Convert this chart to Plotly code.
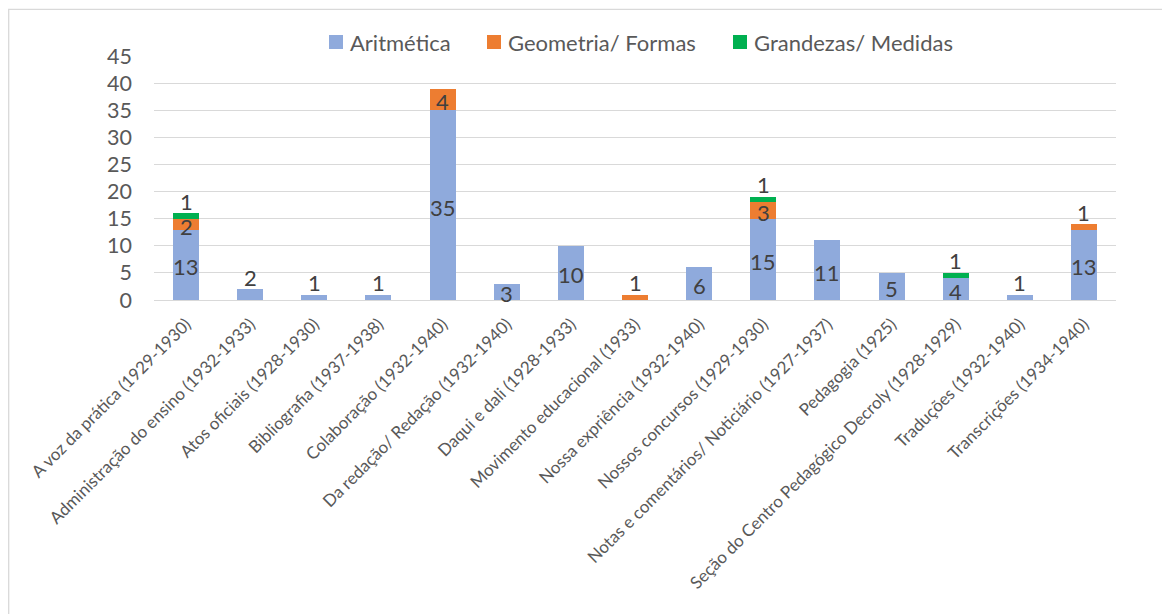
import plotly.graph_objects as go

# Seções da revista e número de ocorrências por conteúdo matemático
categories = [
    "A voz da prática (1929-1930)",
    "Administração do ensino (1932-1933)",
    "Atos oficiais (1928-1930)",
    "Bibliografia (1937-1938)",
    "Colaboração (1932-1940)",
    "Da redação/ Redação (1932-1940)",
    "Daqui e dali (1928-1933)",
    "Movimento educacional (1933)",
    "Nossa expriência (1932-1940)",
    "Nossos concursos (1929-1930)",
    "Notas e comentários/ Noticiário (1927-1937)",
    "Pedagogia (1925)",
    "Seção do Centro Pedagógico Decroly (1928-1929)",
    "Traduções (1932-1940)",
    "Transcrições (1934-1940)",
]
aritmetica = [13, 2, 1, 1, 35, 3, 10, 0, 6, 15, 11, 5, 4, 1, 13]
geometria = [2, 0, 0, 0, 4, 0, 0, 1, 0, 3, 0, 0, 0, 0, 1]
grandezas = [1, 0, 0, 0, 0, 0, 0, 0, 0, 1, 0, 0, 1, 0, 0]

series = [
    ("Aritmética", aritmetica, "#8FAADC"),
    ("Geometria/ Formas", geometria, "#ED7D31"),
    ("Grandezas/ Medidas", grandezas, "#00B050"),
]

y_ticks = list(range(0, 46, 5))

FONT = "Lato"
W, H = 1162, 614
ML, MR, MT, MB = 154, 46, 56, 314
PW = W - ML - MR
PH = H - MT - MB


def px_x(px):
    """Pixel column -> paper x."""
    return (px - ML) / PW


def px_y(py):
    """Pixel row -> paper y."""
    return (H - MB - py) / PH


fig = go.Figure()
for name, vals, color in series:
    fig.add_trace(go.Bar(
        x=categories, y=vals, name=name,
        marker=dict(color=color, line=dict(width=0)),
        showlegend=False,
    ))

# Rótulos de dados: no centro do segmento; acima da pilha quando o
# segmento do topo é pequeno demais para conter o número
annotations = []
n = len(categories)
for i in range(n):
    base = 0
    seg_vals = [s[1][i] for s in series]
    top_idx = max(k for k, v in enumerate(seg_vals) if v > 0)
    for k, v in enumerate(seg_vals):
        if v <= 0:
            continue
        if k == top_idx and v < 3:
            y, shift = base + v, 12
        else:
            y, shift = base + v / 2, -2
        annotations.append(dict(
            x=categories[i], y=y, xref="x", yref="y", text=str(v),
            showarrow=False, yanchor="middle", yshift=shift,
            font=dict(family=FONT, size=22, color="#404040"),
        ))
        base += v

# Legenda horizontal no topo: quadrado colorido + nome da série
shapes = []
legend_left = [329, 487, 733]
legend_row = 42
sq = 14
for (name, _, color), left in zip(series, legend_left):
    shapes.append(dict(
        type="rect", xref="paper", yref="paper",
        x0=px_x(left), x1=px_x(left + sq),
        y0=px_y(legend_row - sq / 2), y1=px_y(legend_row + sq / 2),
        fillcolor=color, line=dict(width=0),
    ))
    annotations.append(dict(
        x=px_x(left + sq + 5), y=px_y(legend_row), xref="paper", yref="paper",
        text=name, showarrow=False, xanchor="left", yanchor="middle",
        font=dict(family=FONT, size=22, color="#595959"),
    ))

# Moldura da área do gráfico (bordas esquerda e superior visíveis)
shapes.append(dict(
    type="rect", xref="paper", yref="paper",
    x0=px_x(8.7), x1=px_x(W + 40),
    y0=px_y(9.3), y1=px_y(H + 40),
    line=dict(color="#D9D9D9", width=1.3), fillcolor="rgba(0,0,0,0)",
    layer="below",
))

fig.update_layout(
    width=W, height=H,
    margin=dict(l=ML, r=MR, t=MT, b=MB, pad=0),
    barmode="stack", bargap=0.595,
    plot_bgcolor="white", paper_bgcolor="white",
    font=dict(family=FONT, color="#595959"),
    showlegend=False,
    annotations=annotations,
    shapes=shapes,
)

fig.update_yaxes(
    range=[0, 45], tickvals=y_ticks, ticktext=[str(t) for t in y_ticks],
    showgrid=True, gridcolor="#D9D9D9", gridwidth=1.3,
    zeroline=True, zerolinecolor="#D9D9D9", zerolinewidth=1.3,
    showline=False, ticks="", ticklabelstandoff=21,
    tickfont=dict(family=FONT, size=21.5, color="#595959"),
)
fig.update_xaxes(
    tickangle=-45, showgrid=False, showline=False, ticks="",
    ticklabelstandoff=10,
    tickfont=dict(family=FONT, size=17, color="#595959"),
)

fig.write_html("out.html")
